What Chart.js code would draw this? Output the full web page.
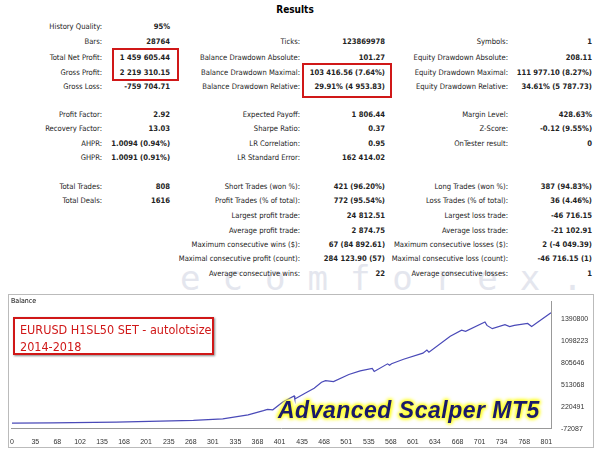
<!DOCTYPE html>
<html><head><meta charset="utf-8">
<script src="https://cdn.jsdelivr.net/npm/chart.js@4"></script>
<style>
body{margin:0;width:600px;height:450px;background:#fff;position:relative;overflow:hidden;font-family:"DejaVu Sans Condensed","Liberation Sans Narrow",sans-serif;}
.t{position:absolute;font-size:7.6px;white-space:nowrap;color:#222;transform:translate(-100%,-50%);}
.v{font-weight:bold;}
.box{position:absolute;border:2px solid #d01818;}
#panel{position:absolute;left:8px;top:294px;width:584px;height:152px;border:1px solid #bbb;}
</style></head><body>
<div style="position:absolute;left:0;width:590px;top:4px;text-align:center;font-weight:bold;font-size:10px;">Results</div>
<div style="position:absolute;left:180px;top:258px;font-size:34px;letter-spacing:22px;color:#e4e6ee;font-family:'DejaVu Sans Mono';">ecomforex.com</div>
<div id="tbl"></div>
<div class="box" style="left:112px;top:48px;width:63px;height:29px;"></div>
<div class="box" style="left:302px;top:63px;width:86px;height:31px;"></div>
<div id="panel"><canvas id="c" width="584" height="152"></canvas></div>
<div style="position:absolute;left:11px;top:297px;font-size:7px;">Balance</div>
<div style="position:absolute;left:13px;top:317px;width:201px;height:38px;border:2px solid #d01818;background:#fff;box-shadow:1px 1px 2px #888;color:#d01818;font-family:'DejaVu Sans Condensed';font-size:12.5px;line-height:17px;padding:2px 0 0 5px;box-sizing:border-box;">EURUSD H1SL50 SET - autolotsize<br>2014-2018</div>
<div style="position:absolute;left:278px;top:397px;font-family:'Liberation Sans';font-weight:bold;font-style:italic;font-size:23px;color:#1a1a6a;text-shadow:0 0 3px #ffff30,0 0 3px #ffff30,0 0 4px #ffff30,0 0 4px #ffff30,0 0 5px #ffff30;letter-spacing:0.5px;">Advanced Scalper MT5</div>
<script>
const rows=[
[26,"History Quality:","95%","","","",""],
[41,"Bars:","28764","Ticks:","123869978","Symbols:","1"],
[57,"Total Net Profit:","1 459 605.44","Balance Drawdown Absolute:","101.27","Equity Drawdown Absolute:","208.11"],
[72,"Gross Profit:","2 219 310.15","Balance Drawdown Maximal:","103 416.56 (7.64%)","Equity Drawdown Maximal:","111 977.10 (8.27%)"],
[86,"Gross Loss:","-759 704.71","Balance Drawdown Relative:","29.91% (4 953.83)","Equity Drawdown Relative:","34.61% (5 787.73)"],
[114,"Profit Factor:","2.92","Expected Payoff:","1 806.44","Margin Level:","428.63%"],
[128,"Recovery Factor:","13.03","Sharpe Ratio:","0.37","Z-Score:","-0.12 (9.55%)"],
[143,"AHPR:","1.0094 (0.94%)","LR Correlation:","0.95","OnTester result:","0"],
[157,"GHPR:","1.0091 (0.91%)","LR Standard Error:","162 414.02","",""],
[186,"Total Trades:","808","Short Trades (won %):","421 (96.20%)","Long Trades (won %):","387 (94.83%)"],
[200,"Total Deals:","1616","Profit Trades (% of total):","772 (95.54%)","Loss Trades (% of total):","36 (4.46%)"],
[215,"","","Largest profit trade:","24 812.51","Largest loss trade:","-46 716.15"],
[230,"","","Average profit trade:","2 874.75","Average loss trade:","-21 102.91"],
[244,"","","Maximum consecutive wins ($):","67 (84 892.61)","Maximum consecutive losses ($):","2 (-4 049.39)"],
[258,"","","Maximal consecutive profit (count):","284 123.90 (57)","Maximal consecutive loss (count):","-46 716.15 (1)"],
[273,"","","Average consecutive wins:","22","Average consecutive losses:","1"]];
const colX=[102,170,300,385,508,592];
let h="";
rows.forEach(r=>{for(let i=1;i<7;i++){if(r[i])h+=`<div class="t${i%2==0?' v':''}" style="left:${colX[i-1]}px;top:${r[0]}px">${r[i]}</div>`;}});
document.getElementById('tbl').innerHTML=h;

const trades=[0,60,156,272,316,354,377,383,391,406,423,424,440,453,464,470,482,505,522,540,543,563,566,569,587,616,622,625,657,674,680,709,712,720,739,746,753,773,779,808];
const balance=[0,3000,13000,37600,58000,110800,167700,184000,178000,281000,363000,322000,400000,464000,545000,566000,552000,647000,696000,728000,688000,789000,770000,790000,850000,931000,972000,945000,1155000,1236000,1222000,1346000,1300000,1257000,1310000,1285000,1300000,1326000,1285000,1468000];
const xTicks=[0,35,68,102,135,168,201,235,268,301,335,368,401,435,468,501,535,568,601,634,668,701,734,768,801];
const yTicks=[-72087,220491,513068,805646,1098223,1390800];

new Chart(document.getElementById('c'),{type:'scatter',
data:{datasets:[{data:trades.map((t,i)=>({x:t,y:balance[i]})),showLine:true,borderColor:'#4a4ab8',borderWidth:1.2,pointRadius:0,tension:0}]},
options:{responsive:false,animation:false,layout:{padding:{left:2,top:2,right:0,bottom:0}},
plugins:{legend:{display:false},tooltip:{enabled:false}},
scales:{
x:{type:'linear',min:0,max:808,afterBuildTicks:a=>{a.ticks=xTicks.map(v=>({value:v}));},
 ticks:{font:{size:7},color:'#333',maxRotation:0,autoSkip:false,padding:1,callback:v=>String(v)},grid:{display:false},border:{color:'#999'}},
y:{position:'right',min:-72087,max:1622000,afterBuildTicks:a=>{a.ticks=yTicks.map(v=>({value:v}));},
 ticks:{font:{size:7},color:'#333',padding:2,callback:v=>String(v)},grid:{display:false},border:{color:'#999'},afterFit:a=>{a.width=42;}}
}}});
</script>
</body></html>
